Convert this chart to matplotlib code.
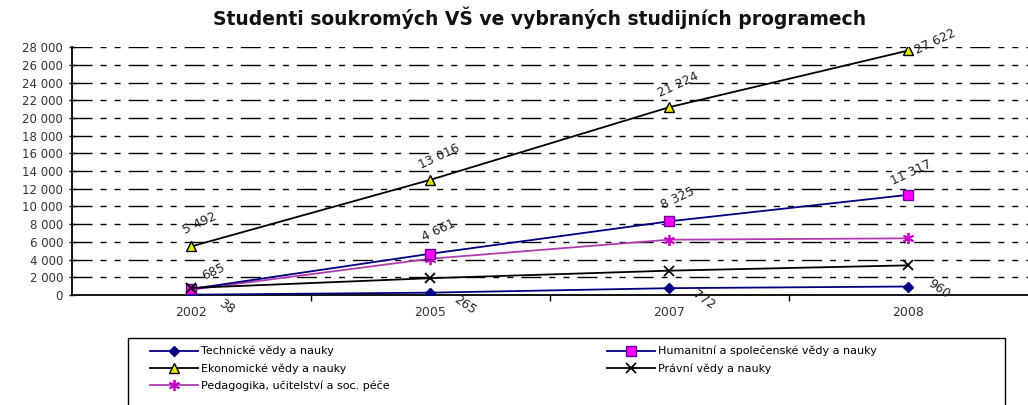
import matplotlib
matplotlib.use("Agg")
import matplotlib.pyplot as plt
from matplotlib.patches import Rectangle

plt.rcParams['font.family'] = ['DejaVu Sans']

# ---- data ----
years = ["2002", "2005", "2007", "2008"]
technicke = [38, 265, 772, 960]
humanitni = [685, 4661, 8325, 11317]
ekonomicke = [5492, 13016, 21224, 27622]
pravni = [800, 1900, 2750, 3350]
pedagogika = [600, 4100, 6250, 6400]
yticks = list(range(0, 28001, 2000))
title = "Studenti soukromých VŠ ve vybraných studijních programech"
names = ["Technické vědy a nauky",
         "Humanitní a společenské vědy a nauky",
         "Ekonomické vědy a nauky",
         "Právní vědy a nauky",
         "Pedagogika, učitelství a soc. péče"]


def fmt(v):
    return f"{v:,}".replace(",", " ")


W, H = 1028, 405
fig = plt.figure(figsize=(W / 100, H / 100), dpi=100)
ax = fig.add_axes([0.070, 0.2716, 0.930, 0.612])
x = list(range(len(years)))

# grid
for t in yticks[1:]:
    ax.axhline(t, color="black", lw=1.0,
               linestyle=(0, (14.4, 5.8, 4.3, 5.8, 4.3, 5.8)), zorder=1)

l_tech, = ax.plot(x, technicke, color="#000080", lw=1.3, marker="D", ms=5.5,
                  mfc="#000080", mec="#000080", zorder=5, label=names[0])
l_hum, = ax.plot(x, humanitni, color="#000080", lw=1.3, marker="s", ms=7,
                 mfc="#FF00FF", mec="#660099", mew=1.0, zorder=5, label=names[1])
l_eko, = ax.plot(x, ekonomicke, color="black", lw=1.3, marker="^", ms=6.5,
                 mfc="#E8E800", mec="black", mew=1.0, zorder=5, label=names[2])
l_pra, = ax.plot(x, pravni, color="black", lw=1.3, marker="x", ms=7,
                 mec="black", mew=1.3, zorder=5, label=names[3])
l_ped, = ax.plot(x, pedagogika, color="#B03AB0", lw=1.3, marker=(6, 2, 0), ms=8,
                 mec="#CC00CC", mew=1.3, zorder=4, label=names[4])

lab_kw = dict(fontsize=9, color="#222222", ha="center", va="center",
              rotation_mode="anchor", textcoords="offset points", zorder=6)
for i, v in enumerate(ekonomicke):
    off = (19, 6.5) if i == 3 else (6, 16.5)
    ax.annotate(fmt(v), (x[i], v), xytext=off, rotation=25, **lab_kw)
for i, v in enumerate(humanitni):
    off = {0: (16, 12), 3: (2, 16)}.get(i, (6, 16.5))
    ax.annotate(fmt(v), (x[i], v), xytext=off, rotation=25, **lab_kw)
for i, v in enumerate(technicke):
    off = (22, -1.5) if i == 3 else (25, -8.6)
    ax.annotate(fmt(v), (x[i], v), xytext=off, rotation=-35, **lab_kw)

ax.set_xlim(-0.5, 3.5)
ax.set_ylim(0, 28000)
ax.set_yticks(yticks)
ax.set_yticklabels([fmt(t) for t in yticks])
ax.set_xticks(x)
ax.set_xticklabels(years)
ax.set_xticks([0.5, 1.5, 2.5], minor=True)
ax.tick_params(axis="x", which="major", length=0, pad=8, labelsize=9, labelcolor="#333333")
ax.tick_params(axis="x", which="minor", length=4, direction="out", width=1)
ax.tick_params(axis="y", length=5, direction="inout", width=1, pad=4,
               labelsize=8.5, labelcolor="#333333")
for s in ["top", "right"]:
    ax.spines[s].set_visible(False)
ax.spines["left"].set_linewidth(1.3)
ax.spines["bottom"].set_linewidth(1.3)
ax.patch.set_visible(False)

fig.text(0.525, 1 - 18 / H, title, ha="center", va="center",
         fontsize=13.5, fontweight="bold", color="#111111")

# legend frame (extends past the bottom edge, as in the reference)
fig.add_artist(Rectangle((128 / W, -0.05), (1005 - 128) / W, 0.05 + 1 - 338 / H,
                         transform=fig.transFigure, fill=False,
                         edgecolor="black", lw=1.0))

leg_kw = dict(loc="upper left", fontsize=8, frameon=False, handlelength=4.3,
              handletextpad=0.25, labelspacing=0.62, borderpad=0, borderaxespad=0)
col1 = [l_tech, l_eko, l_ped]
col2 = [l_hum, l_pra]
fig.legend(col1, [h.get_label() for h in col1],
           bbox_to_anchor=(150 / W, 1 - 346 / H), **leg_kw)
fig.legend(col2, [h.get_label() for h in col2],
           bbox_to_anchor=(607 / W, 1 - 346 / H), **leg_kw)

fig.savefig("out.png", dpi=100)
